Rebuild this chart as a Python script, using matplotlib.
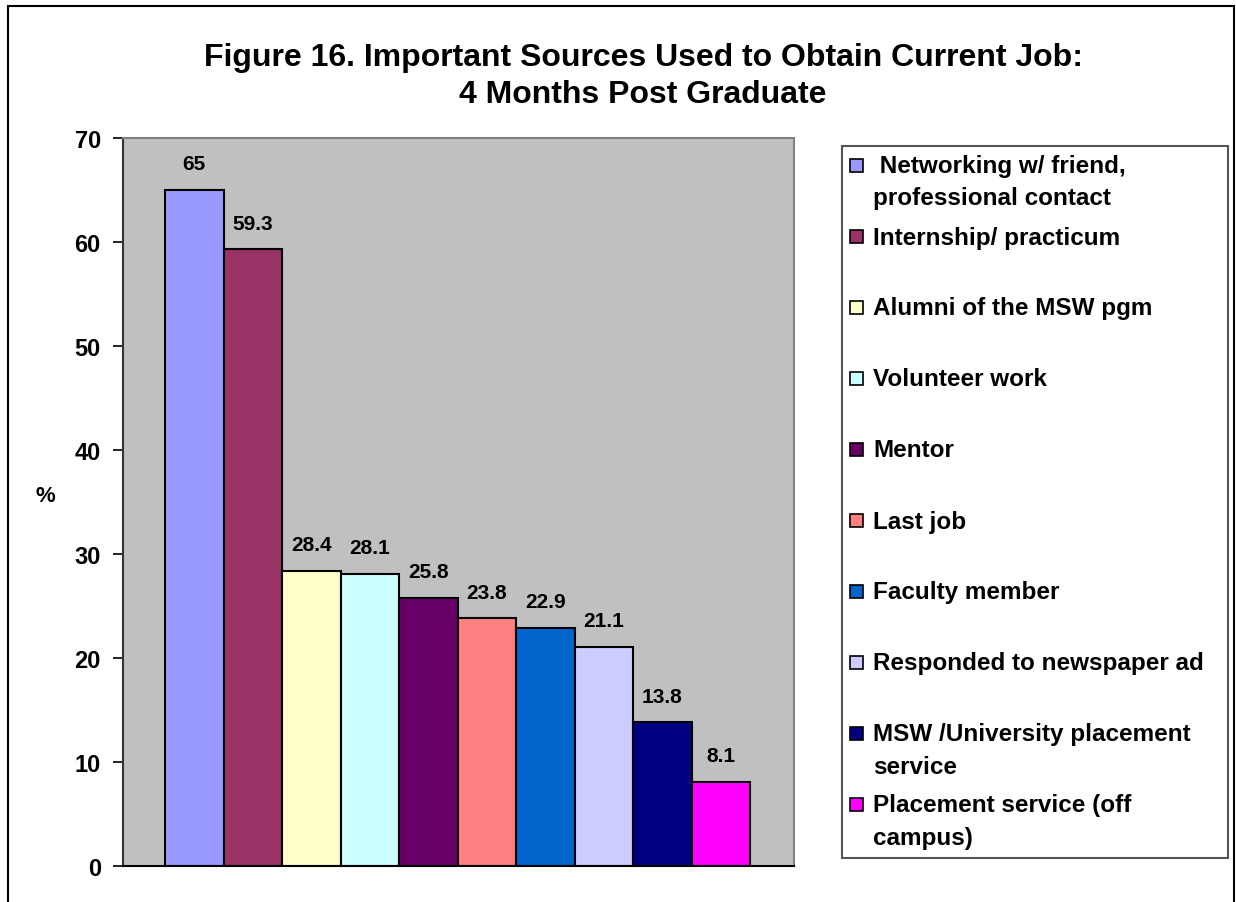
import matplotlib
matplotlib.use("Agg")
import matplotlib.pyplot as plt
from matplotlib.patches import Rectangle

plt.rcParams["font.family"] = ["Liberation Sans", "DejaVu Sans"]
plt.rcParams["font.weight"] = "bold"

# data
sources = [
    " Networking w/ friend,\nprofessional contact",
    "Internship/ practicum",
    "Alumni of the MSW pgm",
    "Volunteer work",
    "Mentor",
    "Last job",
    "Faculty member",
    "Responded to newspaper ad",
    "MSW /University placement\nservice",
    "Placement service (off\ncampus)",
]
percent = [65, 59.3, 28.4, 28.1, 25.8, 23.8, 22.9, 21.1, 13.8, 8.1]
value_labels = ["65", "59.3", "28.4", "28.1", "25.8", "23.8", "22.9", "21.1", "13.8", "8.1"]
colors = ["#9999FF", "#993366", "#FFFFCC", "#CCFFFF", "#660066",
          "#FF8080", "#0066CC", "#CCCCFF", "#000080", "#FF00FF"]
yticks = [0, 10, 20, 30, 40, 50, 60, 70]

W, H = 1236, 903
fig = plt.figure(figsize=(W / 100, H / 100), dpi=100)

# outer chart border
fig.patches.append(Rectangle((8 / W, -0.01), (1234 - 8) / W, 1 - 7 / H + 0.01,
                             transform=fig.transFigure, fill=False,
                             edgecolor="black", linewidth=1.5))

ax = fig.add_axes([123 / W, 1 - 867 / H, (794 - 123) / W, (867 - 139) / H])
ax.set_facecolor("#C0C0C0")

x = list(range(len(percent)))
bars = ax.bar(x, percent, width=1.0, color=colors, edgecolor="black", linewidth=1.5)
for b, lab in zip(bars, value_labels):
    ax.annotate(lab, (b.get_x() + b.get_width() / 2, b.get_height()),
                xytext=(0, 12), textcoords="offset points",
                ha="center", va="bottom", fontsize=15, fontweight="bold")

ax.set_xlim(-0.5 - 0.72, len(percent) - 0.5 + 0.75)
ax.set_ylim(0, 70)
ax.set_yticks(yticks)
ax.set_yticklabels([str(t) for t in yticks], fontsize=17, fontweight="bold")
ax.tick_params(axis="y", direction="out", length=7, width=1.2, pad=9)
ax.set_xticks([])
for side in ["top", "right"]:
    ax.spines[side].set_color("#808080")
    ax.spines[side].set_linewidth(1.5)
ax.spines["left"].set_color("#333333")
ax.spines["left"].set_linewidth(1.5)
ax.spines["bottom"].set_color("black")
ax.spines["bottom"].set_linewidth(1.5)

fig.text(45 / W, 1 - 497 / H, "%", fontsize=16, fontweight="bold",
         ha="center", va="center")

fig.text(643 / W, 1 - 58 / H, "Figure 16. Important Sources Used to Obtain Current Job:",
         fontsize=23, fontweight="bold", ha="center", va="center")
fig.text(643 / W, 1 - 95 / H, "4 Months Post Graduate",
         fontsize=23, fontweight="bold", ha="center", va="center")

# legend box drawn by hand so the squares sit on the first text line
fig.patches.append(Rectangle((842 / W, 1 - 859 / H), (1228 - 842) / W, (859 - 147) / H,
                             transform=fig.transFigure, fill=False,
                             edgecolor="#555555", linewidth=1.5))
step = 71
for i, (name, col) in enumerate(zip(sources, colors)):
    y0 = 167 + i * step
    fig.patches.append(Rectangle((850 / W, 1 - (y0 + 6) / H), 13 / W, 13 / H,
                                 transform=fig.transFigure, facecolor=col,
                                 edgecolor="black", linewidth=1.2))
    for j, line in enumerate(name.split("\n")):
        fig.text(873 / W, 1 - (y0 + j * 32) / H, line, fontsize=17.5,
                 fontweight="bold", ha="left", va="center")

fig.savefig("out.png", dpi=100)
